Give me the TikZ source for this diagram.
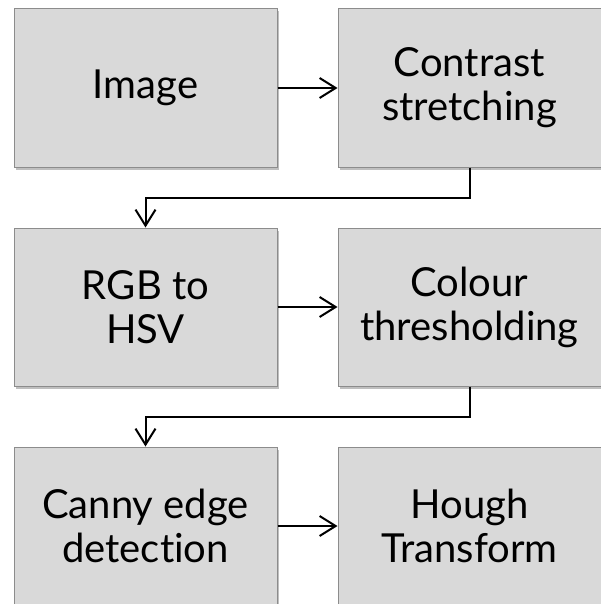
\documentclass[tikz,border=0pt]{standalone}
\usepackage{fontspec}
\setmainfont{Lato}[Ligatures=NoCommon]
\usetikzlibrary{positioning,arrows.meta,shadows}
\definecolor{boxfill}{HTML}{D9D9D9}
\definecolor{boxline}{HTML}{8C8C8C}
\tikzset{%
  stage/.style = {shape=rectangle, draw=boxline, fill=boxfill,%
                  line width=1pt, align=center,%
                  minimum width=263pt, minimum height=158pt,%
                  font=\fontsize{40}{44}\selectfont,%
                  drop shadow={shadow xshift=1.5pt, shadow yshift=-2.5pt,%
                               fill=black, opacity=0.25}},%
  flow/.style  = {line width=2pt,%
                  -{Straight Barb[length=16pt, width=20pt, line width=2pt]}}%
}

\begin{document}
\begin{tikzpicture}[x=1pt, y=1pt]
	\useasboundingbox (0,0) rectangle (601,-604);
	% first row
	\node (image) at (145.5,-88) [stage] {Image};
	\node (contrast) [stage, right=60pt of image] {Contrast\\stretching};
	% second row
	\node (rgb) [stage, below=60pt of image] {RGB to\\HSV};
	\node (colour) [stage, right=60pt of rgb] {Colour\\thresholding};
	% third row
	\node (canny) [stage, below=60pt of rgb] {Canny edge\\detection};
	\node (hough) [stage, right=60pt of canny] {Hough\\Transform};
	% connectors
	\draw [flow] (image) -- (contrast);
	\draw [flow] (contrast.south) -- ++(0,-30) -| (rgb.north);
	\draw [flow] (rgb) -- (colour);
	\draw [flow] (colour.south) -- ++(0,-30) -| (canny.north);
	\draw [flow] (canny) -- (hough);
\end{tikzpicture}
\end{document}
